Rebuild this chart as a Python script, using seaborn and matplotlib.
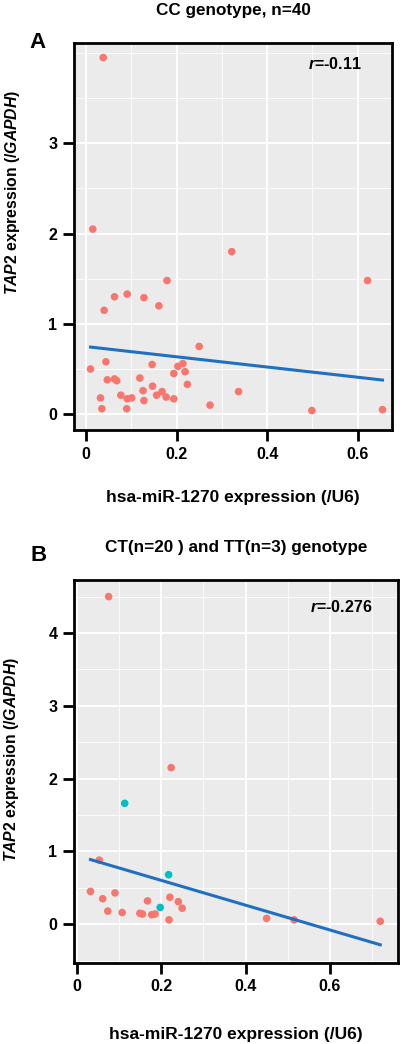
import matplotlib
matplotlib.use("Agg")
import matplotlib.pyplot as plt
import seaborn as sns
import pandas as pd
from matplotlib.ticker import MultipleLocator

# Panel A: CC genotype, n=40
cc_mir = [0.038, 0.015, 0.322, 0.179, 0.622, 0.063, 0.091, 0.128, 0.161, 0.040,
          0.250, 0.010, 0.044, 0.047, 0.063, 0.068, 0.032, 0.035, 0.077, 0.091,
          0.101, 0.090, 0.119, 0.126, 0.128, 0.146, 0.147, 0.156, 0.168, 0.177,
          0.194, 0.194, 0.203, 0.214, 0.219, 0.224, 0.274, 0.337, 0.499, 0.655]
cc_tap2 = [3.95, 2.05, 1.80, 1.48, 1.48, 1.30, 1.33, 1.29, 1.20, 1.15,
           0.75, 0.50, 0.58, 0.38, 0.39, 0.37, 0.18, 0.06, 0.21, 0.17,
           0.18, 0.06, 0.40, 0.26, 0.15, 0.55, 0.31, 0.21, 0.25, 0.19,
           0.17, 0.45, 0.53, 0.56, 0.47, 0.33, 0.10, 0.25, 0.04, 0.05]

# Panel B: CT (n=20) and TT (n=3)
b_mir = [0.076, 0.224, 0.054, 0.033, 0.062, 0.074, 0.091, 0.108, 0.168, 0.150,
         0.156, 0.178, 0.186, 0.219, 0.221, 0.241, 0.250, 0.450, 0.515, 0.719,
         0.114, 0.218, 0.198]
b_tap2 = [4.50, 2.15, 0.88, 0.45, 0.35, 0.18, 0.43, 0.16, 0.32, 0.15,
          0.14, 0.13, 0.14, 0.06, 0.37, 0.31, 0.22, 0.08, 0.06, 0.04,
          1.66, 0.68, 0.23]
b_genotype = ["CT"] * 20 + ["TT"] * 3

cc_df = pd.DataFrame({"mir": cc_mir, "tap2": cc_tap2, "genotype": "CC"})
b_df = pd.DataFrame({"mir": b_mir, "tap2": b_tap2, "genotype": b_genotype})

plt.rcParams.update({
    "font.family": ["Liberation Sans", "DejaVu Sans"],
    "font.weight": "bold",
    "mathtext.fontset": "custom",
    "mathtext.it": "Liberation Sans:italic:bold",
    "mathtext.rm": "Liberation Sans:bold",
    "mathtext.bf": "Liberation Sans:bold",
})

RED = "#F8766D"
CYAN = "#00BFC4"
LINE = "#1f6fc2"

fig = plt.figure(figsize=(4, 10.44), dpi=100)
ax_a = fig.add_axes([0.185, 0.588, 0.795, 0.3707])
ax_b = fig.add_axes([0.185, 0.078, 0.81, 0.3666])


def style_axes(ax, xlim, ylim, ylab_y, xlab_pad):
    ax.set_facecolor("#EBEBEB")
    ax.set_xlim(*xlim)
    ax.set_ylim(*ylim)
    ax.xaxis.set_major_locator(MultipleLocator(0.2))
    ax.xaxis.set_minor_locator(MultipleLocator(0.1))
    ax.yaxis.set_major_locator(MultipleLocator(1))
    ax.yaxis.set_minor_locator(MultipleLocator(0.5))
    ax.grid(which="major", color="white", linewidth=1.3)
    ax.grid(which="minor", color="white", linewidth=0.6)
    ax.set_axisbelow(True)
    for sp in ax.spines.values():
        sp.set_linewidth(2)
        sp.set_color("black")
    ax.tick_params(which="major", length=8, width=2, labelsize=11.5, pad=4)
    ax.tick_params(which="minor", length=0)
    ax.set_xticks([0, 0.2, 0.4, 0.6], ["0", "0.2", "0.4", "0.6"])
    ax.set_xlabel("hsa-miR-1270 expression (/U6)", fontsize=12.5,
                  fontweight="bold", labelpad=xlab_pad)
    ax.set_ylabel(r"$\mathit{TAP2}$ expression (/$\mathit{GAPDH}$)",
                  fontsize=11.3, fontweight="bold")
    ax.yaxis.set_label_coords(-0.165, ylab_y)


# Panel A
sns.scatterplot(data=cc_df, x="mir", y="tap2", color=RED, s=30,
                edgecolor="none", ax=ax_a)
sns.regplot(data=cc_df, x="mir", y="tap2", scatter=False, ci=None,
            color=LINE, line_kws={"linewidth": 2.2}, ax=ax_a)
style_axes(ax_a, (-0.0265, 0.676), (-0.177, 4.11), 0.615, 20)
ax_a.set_yticks([0, 1, 2, 3])
ax_a.set_title("CC genotype, n=40", fontsize=12.3, fontweight="bold", pad=20)
ax_a.text(0.906, 0.946, r"$\mathit{r}$=-0.11", transform=ax_a.transAxes,
          ha="right", va="center", fontsize=11.5, fontweight="bold")
fig.text(0.073, 0.959, "A", fontsize=16, fontweight="bold", ha="left", va="center")

# Panel B
sns.scatterplot(data=b_df, x="mir", y="tap2", hue="genotype",
                palette={"CT": RED, "TT": CYAN}, s=30, edgecolor="none",
                legend=False, ax=ax_b)
sns.regplot(data=b_df, x="mir", y="tap2", scatter=False, ci=None,
            color=LINE, line_kws={"linewidth": 2.2}, ax=ax_b)
style_axes(ax_b, (-0.006, 0.761), (-0.527, 4.73), 0.53, 23.5)
ax_b.set_yticks([0, 1, 2, 3, 4])
ax_b.set_title("CT(n=20 ) and TT(n=3) genotype", fontsize=12.3,
               fontweight="bold", pad=20)
ax_b.text(0.92, 0.93, r"$\mathit{r}$=-0.276", transform=ax_b.transAxes,
          ha="right", va="center", fontsize=11.5, fontweight="bold")
fig.text(0.075, 0.468, "B", fontsize=16, fontweight="bold", ha="left", va="center")

fig.savefig("out.png", dpi=100)
